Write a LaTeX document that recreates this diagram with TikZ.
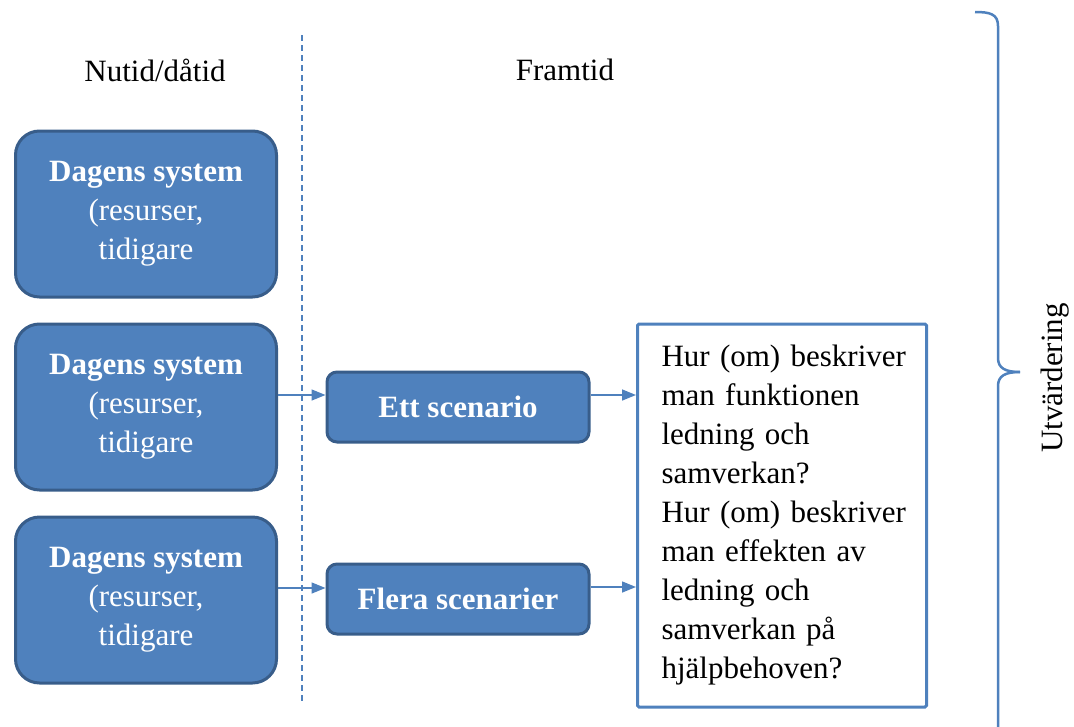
\documentclass[tikz,border=0pt]{standalone}
\usepackage{fontspec}
\setmainfont{Liberation Serif}
\usetikzlibrary{arrows.meta}
\usetikzlibrary{calc}
\definecolor{boxblue}{HTML}{4F81BD}
\definecolor{boxedge}{HTML}{385D8A}

\begin{document}
\begin{tikzpicture}[x=1pt, y=-1pt,
		sysbox/.style={draw=boxedge, fill=boxblue, line width=3pt, rounded corners=24pt, minimum width=261pt, minimum height=166pt, inner sep=0pt, text=white, align=center, font=\fontsize{31}{39}\selectfont},
		scenbox/.style={draw=boxedge, fill=boxblue, line width=3pt, rounded corners=10pt, minimum width=262pt, minimum height=70pt, inner sep=0pt, text=white, font=\fontsize{31}{39}\selectfont\bfseries},
		qbox/.style={draw=boxblue, line width=3pt, rounded corners=1.5pt, minimum width=289pt, minimum height=383pt, inner xsep=24pt, inner ysep=0pt, align=left, text width=241pt, font=\fontsize{31}{39}\selectfont},
		conn/.style={draw=boxblue, line width=1.5pt, -{Triangle[length=14pt, width=11pt]}},
		label/.style={font=\fontsize{31}{39}\selectfont}]
		\useasboundingbox (0,0) rectangle (1074,726);

		\node[label] (nu) at (155,70) {Nutid/dåtid};
		\node[label] (fram) at (565,70) {Framtid};
		\draw[boxblue, line width=1.5pt, dash pattern=on 6pt off 4pt] (302,35) -- (302,702);

		\foreach \y [count=\i] in {214,407,600}
			\node[sysbox] (sys\i) at (146,\y) {\textbf{Dagens system}\\(resurser,\\tidigare};

		\node[scenbox] (ett) at (458,407) {Ett scenario};
		\node[scenbox] (flera) at (458,599) {Flera scenarier};

		\node[qbox] (fraga) at (782,515.5) {\mbox{Hur (om) beskriver}\\man funktionen\\ledning och\\samverkan?\\\mbox{Hur (om) beskriver}\\man effekten av\\ledning och\\samverkan på\\hjälpbehoven?};

		\coordinate (s2) at ($(sys2.east)+(0,-12)$);
		\coordinate (s3) at ($(sys3.east)+(0,-12)$);
		\coordinate (e1) at ($(ett.east)+(0,-12)$);
		\coordinate (f1) at ($(flera.east)+(0,-12)$);
		\draw[conn] (s2) -- (s2 -| ett.west);
		\draw[conn] (s3) -- (s3 -| flera.west);
		\draw[conn] (e1) -- (e1 -| fraga.west);
		\draw[conn] (f1) -- (f1 -| fraga.west);

		% brace on the right
		\draw[boxblue, line width=2.5pt] (975,12) .. controls (990,12) and (998,14) .. (998,26) -- (998,358) .. controls (998,368) and (1005,372) .. (1020,372);
		\draw[boxblue, line width=2.5pt] (1020,372) .. controls (1005,372) and (998,376) .. (998,386) -- (998,740);
		\node[label, rotate=90] (utv) at (1055,378) {Utvärdering};
	\end{tikzpicture}
\end{document}
